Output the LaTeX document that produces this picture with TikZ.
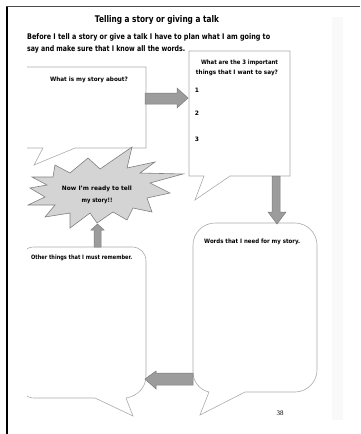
\documentclass[tikz,border=0pt]{standalone}
\usepackage{fontspec}
\setmainfont{DejaVu Sans}
\newfontfamily\pagenumfont{Liberation Serif}
\usepackage{graphicx}
% set a line of text to an exact width, keeping its height
\newcommand{\fitw}[2]{\resizebox{#1pt}{\height}{#2}}
\definecolor{bubbleline}{HTML}{ABABAB}
\definecolor{arrowfill}{HTML}{9C9C9C}
\definecolor{arrowline}{HTML}{7A7A7A}
\definecolor{starfill}{HTML}{D4D4D4}
\definecolor{starline}{HTML}{808080}
\tikzset{
  bubble/.style={draw=bubbleline, line width=0.6pt, fill=white, line join=miter},
  blockarrow/.style={draw=arrowline, fill=arrowfill, line width=0.5pt},
  burst/.style={draw=starline, fill=starfill, line width=0.6pt},
  txt/.style={inner sep=0pt, font=\bfseries\fontsize{6}{7}\selectfont},
  headtxt/.style={inner sep=0pt, font=\bfseries\fontsize{7.8}{9}\selectfont},
  titletxt/.style={inner sep=0pt, font=\bfseries\fontsize{9.2}{11}\selectfont},
}
\begin{document}
\begin{tikzpicture}[x=1pt,y=-1pt]
\useasboundingbox (0,0) rectangle (360,434);
% light strip near the right edge of the sheet
\fill[black!2.5] (332,17) rectangle (343,420);
% page frame
\draw[line width=1.6pt, black] (7,6) -- (7,434);
\draw[line width=1.4pt, black!70] (6.2,6.5) -- (360,6.5);

\begin{scope}
\clip (27,0) rectangle (360,434);
% speech bubbles
\draw[bubble] (20,67) -- (146,67) -- (146,148) -- (75,148) -- (34,165) -- (43,148) -- (20,148) -- cycle;
\draw[bubble] (189,51) -- (290,51) -- (290,176) -- (230,176) -- (195,200) -- (204,176) -- (189,176) -- cycle;
\draw[bubble] (95,398) -- (34,398) .. controls (26,398) and (20,392) .. (20,384)
  -- (20,261) .. controls (20,253) and (26,247) .. (34,247)
  -- (132,247) .. controls (140,247) and (146,253) .. (146,261)
  -- (146,376) .. controls (146,387) and (138,396) .. (126,398)
  -- (133,416) -- cycle;
\draw[bubble] (245,392) -- (295,392) .. controls (307,392) and (317,382) .. (317,370)
  -- (317,245) .. controls (317,233) and (307,223) .. (295,223)
  -- (215,223) .. controls (203,223) and (193,233) .. (193,245)
  -- (193,372) .. controls (193,382) and (200,390) .. (209,392)
  -- (200,415) -- cycle;
% starburst
\draw[burst] (55,165) -- (70,173) -- (88,158) -- (100,169) -- (132,147) -- (127,168)
  -- (155,162) -- (140,173) -- (183,174) -- (150,183) -- (170,193) -- (147,198)
  -- (152,212) -- (133,208) -- (127,220) -- (113,212) -- (97,223) -- (90,213)
  -- (70,228) -- (70,213) -- (45,217) -- (55,205) -- (28,205) -- (45,197)
  -- (30,188) -- (47,185) -- (32,177) -- (53,177) -- cycle;
\end{scope}

% block arrows between the boxes
\draw[blockarrow] (145,93) -- (177,93) -- (177,88) -- (188,98) -- (177,108) -- (177,104) -- (145,104) -- cycle;
\draw[blockarrow] (272,176) -- (280,176) -- (280,212) -- (286,212) -- (277,224) -- (268,212) -- (272,212) -- cycle;
\draw[blockarrow] (94,247) -- (94,230) -- (91,230) -- (97.5,224) -- (104,230) -- (101,230) -- (101,247) -- cycle;
\draw[blockarrow] (193,373) -- (156,373) -- (156,371) -- (145,379) -- (156,389) -- (156,385) -- (193,385) -- cycle;

% texts
\node[titletxt] (title) at (157,20) {\fitw{124}{Telling a story or giving a talk}};
\node[headtxt, anchor=west] (intro1) at (27,37) {\fitw{243}{Before I tell a story or give a talk I have to plan what I am going to}};
\node[headtxt, anchor=west] (intro2) at (27,49) {\fitw{158}{say and make sure that I know all the words.}};
\node[txt] (qabout) at (89,80) {\fitw{78}{What is my story about?}};
\node[txt] (qthreea) at (239.5,63) {\fitw{77}{What are the 3 important}};
\node[txt] (qthreeb) at (237,73) {\fitw{82}{things that I want to say?}};
\node[txt] (one) at (197,90) {1};
\node[txt] (two) at (197,113) {2};
\node[txt] (three) at (197,139) {3};
\node[txt] (readya) at (97,189) {\fitw{70}{Now I'm ready to tell}};
\node[txt] (readyb) at (97,201) {\fitw{31}{my story!!}};
\node[txt, anchor=west] (other) at (31,258) {\fitw{101}{Other things that I must remember.}};
\node[txt, anchor=west] (words) at (204,242) {\fitw{96}{Words that I need for my story.}};
\node[inner sep=0pt, font=\pagenumfont\fontsize{7}{8}\selectfont] (pagenum) at (280,413) {38};
\end{tikzpicture}
\end{document}
